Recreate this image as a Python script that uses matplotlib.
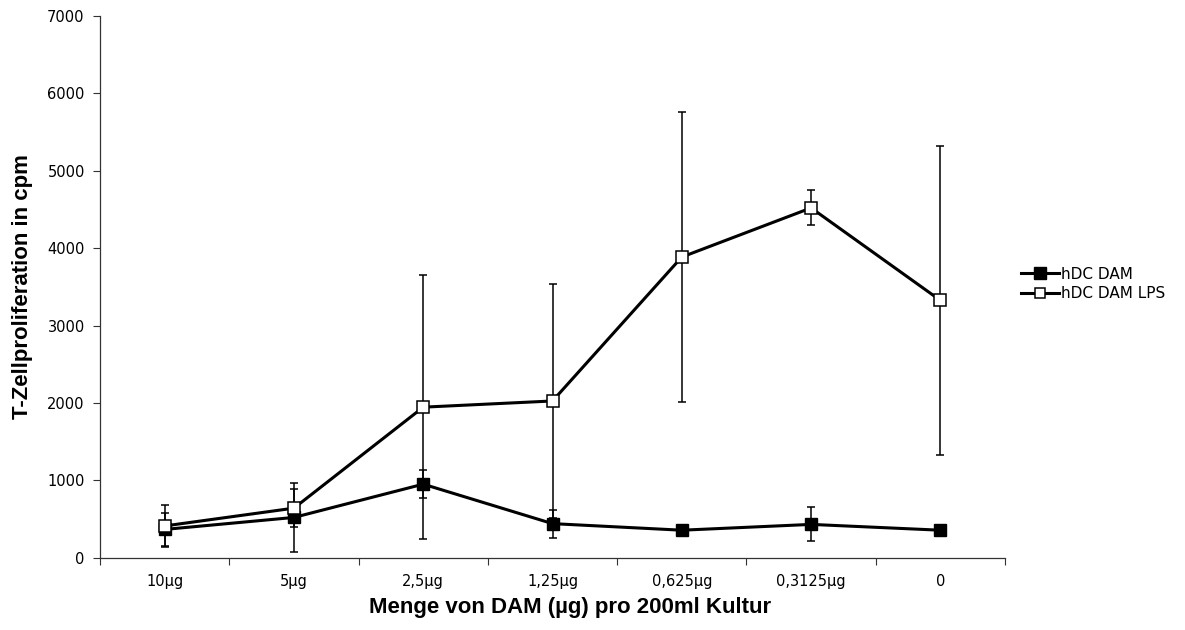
import matplotlib
matplotlib.use("Agg")
import matplotlib.pyplot as plt
from matplotlib.lines import Line2D
import numpy as np

categories = ["10µg", "5µg", "2,5µg", "1,25µg", "0,625µg", "0,3125µg", "0"]
dam = [365, 520, 950, 440, 355, 430, 355]
dam_err = [210, 450, 185, 180, 0, 220, 0]
dam_lps = [410, 640, 1945, 2025, 3885, 4520, 3325]
dam_lps_err = [270, 250, 1710, 1515, 1870, 225, 2000]
yticks = [0, 1000, 2000, 3000, 4000, 5000, 6000, 7000]
series_names = ["hDC DAM", "hDC DAM LPS"]

fig = plt.figure(figsize=(11.85, 6.3), dpi=100)
ax = fig.add_axes([0.0844, 0.1148, 0.7637, 0.8598])

x = np.arange(len(categories))
ax.errorbar(x, dam, yerr=dam_err, color="black", lw=2.2, marker="s",
            markersize=9, markerfacecolor="black", markeredgecolor="black",
            ecolor="black", elinewidth=1.1, capsize=3, capthick=1.1, zorder=3)
ax.errorbar(x, dam_lps, yerr=dam_lps_err, color="black", lw=2.2, marker="s",
            markersize=8, markerfacecolor="white", markeredgecolor="black",
            markeredgewidth=1.1, ecolor="black", elinewidth=1.1, capsize=3,
            capthick=1.1, zorder=4)

ax.set_xlim(-0.5, len(categories) - 0.5)
ax.set_ylim(0, 7000)
ax.set_yticks(yticks)
ax.set_yticklabels([str(v) for v in yticks], fontsize=10.5, family="DejaVu Sans")
ax.set_xticks(np.arange(-0.5, len(categories), 1.0))
ax.set_xticklabels([])
ax.set_xticks(x, minor=True)
ax.set_xticklabels(categories, minor=True, fontsize=10.5, family="DejaVu Sans")
ax.tick_params(axis="x", which="minor", length=0, pad=12)
ax.tick_params(axis="x", which="major", length=5, direction="out", width=0.8, color="#333333")
ax.tick_params(axis="y", length=5, direction="out", width=0.8, color="#333333", pad=6)

for s in ["top", "right"]:
    ax.spines[s].set_visible(False)
for s in ["left", "bottom"]:
    ax.spines[s].set_color("#333333")
    ax.spines[s].set_linewidth(0.9)

ax.set_xlabel("Menge von DAM (µg) pro 200ml Kultur", fontsize=16,
              fontweight="bold", family="Liberation Sans")
ax.xaxis.set_label_coords((570 - 100) / 905, -0.072)
ax.set_ylabel("T-Zellproliferation in cpm", fontsize=16,
              fontweight="bold", family="Liberation Sans")
ax.yaxis.set_label_coords(-(100 - 33) / 905, 0.5)

handles = [
    Line2D([], [], color="black", lw=2.2, marker="s", markersize=8,
           markerfacecolor="black", markeredgecolor="black"),
    Line2D([], [], color="black", lw=2.2, marker="s", markersize=7,
           markerfacecolor="white", markeredgecolor="black", markeredgewidth=1.1),
]
fig.legend(handles, series_names, loc="center left",
           bbox_to_anchor=(1021 / 1185, (630 - 284) / 630),
           frameon=False, handlelength=2.5, handletextpad=0.15,
           labelspacing=0.3, borderaxespad=0, borderpad=0,
           prop={"family": "DejaVu Sans", "size": 11})

fig.savefig("out.png", dpi=100)
